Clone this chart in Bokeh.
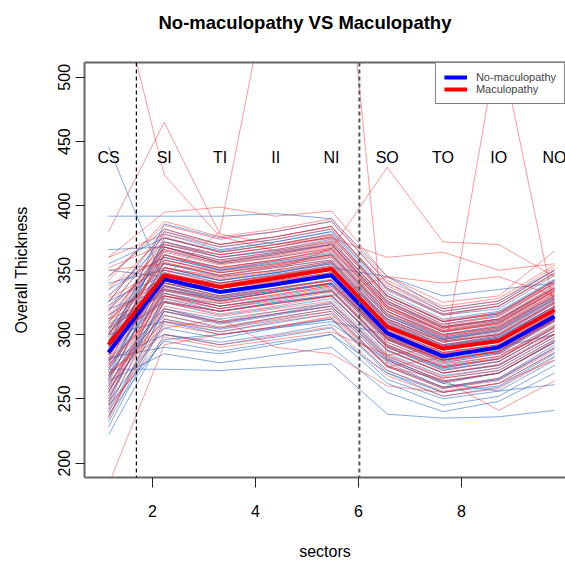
from bokeh.plotting import figure
from bokeh.models import (Range1d, LinearAxis, FixedTicker, Span, Legend, LegendItem, Title)
from bokeh.core.properties import value
from bokeh.embed import file_html
from bokeh.resources import INLINE

FONT = "Liberation Sans"

sector_pos = [1, 2, 3, 4, 5, 6, 7, 8, 9]
sector_labels = ["CS", "SI", "TI", "II", "NI", "SO", "TO", "IO", "NO"]
x_ticks = [2, 4, 6, 8]
y_ticks = [200, 250, 300, 350, 400, 450, 500]
dividers = [1.5, 5.5]

mean_no_mac = [286, 343, 333, 339, 346, 301, 283, 290, 314]
mean_mac = [292, 346, 337, 344, 351, 306, 289, 295, 319]

no_mac = [
    [250, 330, 322, 328, 334, 290, 272, 279, 303],
    [310, 360, 350, 356, 362, 315, 297, 303, 328],
    [272, 338, 326, 333, 340, 296, 278, 285, 310],
    [295, 352, 342, 348, 355, 309, 291, 298, 322],
    [240, 318, 310, 316, 322, 280, 262, 270, 294],
    [330, 372, 360, 366, 374, 325, 306, 312, 336],
    [265, 345, 336, 342, 348, 302, 285, 291, 316],
    [285, 328, 318, 325, 331, 287, 270, 276, 300],
    [300, 365, 355, 360, 367, 320, 300, 307, 332],
    [228, 310, 302, 309, 316, 275, 258, 265, 290],
    [318, 378, 366, 372, 380, 330, 310, 317, 342],
    [278, 340, 330, 336, 343, 299, 281, 288, 312],
    [260, 325, 315, 321, 328, 285, 268, 274, 298],
    [345, 382, 370, 376, 384, 335, 315, 320, 346],
    [290, 350, 340, 347, 353, 306, 288, 294, 320],
    [255, 335, 327, 333, 339, 294, 276, 283, 307],
    [305, 355, 345, 350, 357, 311, 292, 299, 324],
    [270, 320, 312, 318, 325, 283, 266, 272, 296],
    [392, 392, 392, 394, 390, 345, 320, 326, 350],
    [273, 273, 272, 275, 277, 238, 235, 236, 241],
    [446, 340, 330, 338, 345, 300, 282, 290, 312],
    [222, 300, 292, 298, 305, 265, 250, 256, 280],
    [366, 368, 356, 362, 370, 322, 303, 310, 334],
    [282, 290, 285, 292, 300, 270, 255, 260, 285],
    [315, 345, 338, 344, 352, 312, 295, 300, 325],
    [248, 305, 297, 305, 312, 272, 255, 262, 286],
    [298, 372, 362, 368, 376, 328, 308, 315, 340],
    [335, 360, 350, 355, 362, 318, 300, 306, 330],
    [262, 352, 342, 348, 355, 310, 292, 298, 322],
    [280, 300, 294, 300, 308, 280, 262, 256, 261],
    [292, 386, 375, 380, 388, 340, 318, 324, 350],
    [236, 320, 309, 316, 324, 282, 263, 270, 295],
    [320, 335, 328, 334, 340, 298, 282, 290, 316],
    [268, 315, 305, 313, 320, 278, 259, 266, 292],
    [302, 340, 333, 340, 346, 305, 290, 297, 322],
    [288, 362, 352, 358, 365, 318, 298, 305, 330],
    [355, 375, 365, 372, 380, 336, 316, 322, 348],
    [245, 295, 287, 294, 300, 262, 245, 252, 276],
    [276, 332, 322, 328, 335, 292, 274, 281, 306],
    [312, 368, 358, 364, 370, 324, 305, 311, 336],
    [258, 342, 333, 339, 346, 300, 283, 289, 314],
    [296, 326, 318, 324, 330, 290, 274, 281, 305],
    [325, 380, 368, 374, 382, 332, 312, 318, 343],
    [232, 312, 304, 311, 318, 276, 259, 265, 289],
    [284, 347, 337, 343, 350, 304, 286, 292, 317],
    [340, 350, 342, 348, 356, 312, 294, 300, 326],
    [266, 358, 348, 353, 360, 314, 296, 302, 327],
    [308, 332, 324, 330, 337, 296, 279, 286, 311],
    [252, 325, 318, 325, 330, 288, 270, 276, 300],
    [294, 368, 356, 363, 370, 322, 302, 309, 334],
    [274, 348, 338, 344, 350, 306, 289, 296, 320],
    [300, 310, 300, 305, 310, 300, 285, 290, 300],
    [242, 330, 320, 327, 334, 291, 273, 279, 303],
    [322, 355, 346, 352, 358, 314, 296, 303, 328],
    [288, 337, 328, 334, 340, 297, 280, 287, 311],
    [350, 345, 340, 346, 352, 345, 330, 335, 340],
    [264, 285, 278, 284, 290, 255, 240, 248, 270],
    [280, 375, 364, 370, 378, 330, 310, 316, 342],
    [305, 342, 336, 343, 350, 307, 290, 296, 320],
    [256, 318, 308, 315, 322, 281, 264, 270, 294],
    [268, 362, 350, 357, 363, 316, 297, 304, 329],
    [304, 334, 326, 333, 339, 300, 284, 290, 314],
    [246, 338, 329, 336, 342, 297, 280, 286, 311],
    [326, 346, 337, 343, 350, 308, 291, 297, 321],
    [238, 296, 300, 306, 312, 270, 252, 259, 283],
    [292, 370, 360, 365, 372, 326, 306, 312, 338],
]

mac = [
    [260, 332, 322, 329, 336, 292, 275, 281, 306],
    [315, 362, 352, 358, 366, 320, 302, 308, 333],
    [280, 342, 332, 338, 346, 300, 284, 290, 314],
    [300, 356, 346, 353, 360, 314, 296, 303, 328],
    [245, 322, 314, 320, 326, 284, 267, 274, 298],
    [335, 376, 364, 370, 378, 330, 311, 317, 341],
    [272, 348, 339, 345, 352, 306, 290, 296, 320],
    [292, 330, 320, 328, 334, 291, 275, 281, 305],
    [305, 368, 358, 364, 371, 324, 305, 312, 337],
    [236, 315, 306, 313, 320, 279, 263, 270, 294],
    [325, 382, 370, 376, 384, 334, 315, 322, 347],
    [285, 344, 334, 340, 347, 303, 286, 292, 316],
    [380, 465, 378, 370, 375, 330, 310, 316, 340],
    [600, 424, 376, 365, 372, 326, 306, 312, 336],
    [300, 345, 380, 600, 709, 275, 282, 290, 312],
    [183, 292, 300, 306, 314, 275, 258, 264, 288],
    [310, 352, 345, 350, 367, 430, 372, 370, 345],
    [290, 340, 333, 338, 345, 300, 280, 530, 320],
    [268, 310, 305, 312, 318, 275, 265, 241, 264],
    [352, 370, 362, 368, 375, 360, 364, 350, 355],
    [255, 340, 330, 336, 342, 298, 280, 287, 312],
    [320, 358, 348, 354, 361, 316, 298, 304, 330],
    [276, 325, 316, 322, 330, 288, 270, 276, 300],
    [295, 372, 362, 368, 376, 328, 308, 314, 340],
    [240, 308, 300, 306, 313, 272, 256, 262, 286],
    [330, 366, 357, 363, 370, 324, 305, 311, 336],
    [282, 350, 340, 346, 353, 308, 291, 297, 322],
    [262, 318, 309, 316, 322, 281, 264, 270, 294],
    [345, 385, 374, 380, 388, 340, 320, 326, 352],
    [298, 338, 329, 335, 342, 299, 282, 289, 313],
    [250, 328, 320, 326, 333, 290, 272, 279, 303],
    [312, 346, 340, 346, 354, 310, 294, 300, 325],
    [288, 362, 351, 357, 364, 318, 299, 306, 331],
    [360, 378, 368, 374, 382, 338, 318, 324, 350],
    [270, 300, 292, 299, 306, 268, 252, 258, 282],
    [305, 335, 326, 333, 340, 297, 280, 287, 312],
    [278, 356, 346, 352, 358, 312, 294, 300, 325],
    [322, 370, 360, 366, 373, 326, 307, 314, 339],
    [258, 312, 302, 310, 316, 276, 259, 266, 290],
    [294, 348, 338, 344, 351, 306, 288, 295, 320],
    [338, 360, 352, 358, 366, 322, 304, 310, 336],
    [266, 336, 326, 333, 340, 296, 278, 285, 310],
    [302, 380, 370, 376, 384, 336, 316, 322, 348],
    [244, 298, 290, 296, 302, 284, 290, 285, 300],
    [315, 342, 336, 341, 348, 305, 288, 294, 318],
    [286, 366, 355, 361, 368, 321, 302, 309, 334],
    [328, 352, 344, 350, 357, 312, 295, 301, 327],
    [274, 330, 322, 328, 334, 292, 275, 282, 306],
    [308, 375, 364, 370, 377, 330, 310, 316, 342],
    [264, 345, 336, 342, 348, 303, 286, 292, 317],
    [296, 325, 318, 324, 330, 345, 340, 345, 330],
    [350, 355, 348, 354, 362, 318, 300, 306, 332],
    [280, 320, 310, 318, 324, 283, 266, 272, 296],
    [318, 364, 354, 360, 367, 320, 302, 308, 334],
    [254, 334, 325, 331, 338, 294, 277, 283, 308],
    [290, 352, 343, 349, 356, 310, 292, 299, 324],
    [342, 388, 376, 382, 390, 342, 322, 328, 354],
    [270, 305, 312, 290, 285, 260, 255, 262, 280],
    [300, 358, 349, 355, 362, 316, 299, 305, 330],
    [284, 338, 328, 335, 342, 298, 280, 287, 311],
    [360, 395, 399, 392, 396, 345, 325, 330, 365],
    [248, 344, 334, 341, 347, 302, 285, 291, 316],
    [312, 330, 324, 331, 338, 296, 280, 287, 312],
    [276, 368, 356, 362, 369, 322, 303, 309, 335],
    [234, 326, 318, 324, 330, 288, 270, 277, 301],
]

p = figure(width=565, height=562, output_backend="svg", toolbar_location=None,
           x_range=Range1d(0.5695, 9.197), y_range=Range1d(188.8, 511.5),
           x_axis_location=None, min_border_left=84, min_border_right=0,
           min_border_top=62, min_border_bottom=81)
p.extra_x_ranges = {"ax": Range1d(0.680, 10.019)}
p.grid.visible = False
p.outline_line_color = None
p.background_fill_color = "white"
p.border_fill_color = "white"

ya = p.yaxis[0]
ya.ticker = FixedTicker(ticks=y_ticks)
ya.major_label_orientation = "vertical"
ya.axis_label = "Overall Thickness"
ya.axis_line_color = "#666666"
ya.axis_line_width = 2
ya.major_tick_line_color = "#222222"
ya.major_tick_out = 9
ya.major_tick_in = 0
ya.minor_tick_line_color = None
ya.major_label_text_font = FONT
ya.major_label_text_font_size = "16px"
ya.major_label_text_color = "black"
ya.major_label_standoff = 5
ya.axis_label_text_font = FONT
ya.axis_label_text_font_size = "16px"
ya.axis_label_text_font_style = "normal"
ya.axis_label_text_color = "black"
ya.axis_label_standoff = 26

xa = LinearAxis(x_range_name="ax", ticker=FixedTicker(ticks=x_ticks), axis_label="sectors",
                axis_line_color="#666666", axis_line_width=2,
                major_tick_line_color="#222222", major_tick_out=10, major_tick_in=0,
                minor_tick_line_color=None, major_label_text_font=FONT,
                major_label_text_font_size="16px", major_label_text_color="black",
                major_label_standoff=17, axis_label_text_font=FONT,
                axis_label_text_font_size="16px", axis_label_text_font_style="normal",
                axis_label_text_color="black", axis_label_standoff=23)
p.add_layout(xa, "below")

# top border of the box (invisible axis label acts as spacer under the title)
top = LinearAxis(x_range_name="ax", ticker=FixedTicker(ticks=[]), axis_line_color="#666666",
                 axis_line_width=2, major_tick_out=0, major_tick_in=0,
                 minor_tick_line_color=None, major_label_text_font_size="0px",
                 axis_label="x", axis_label_text_alpha=0, axis_label_text_font_size="10px",
                 axis_label_standoff=16)
p.add_layout(top, "above")

p.title = Title(text="No-maculopathy VS Maculopathy", align="left", offset=74,
                text_font=FONT, text_font_size="18.5px", text_font_style="bold",
                text_color="black", standoff=0)

p.multi_line(xs=[sector_pos] * len(no_mac), ys=no_mac, line_color="#1e64c8",
             line_alpha=0.55, line_width=1)
p.multi_line(xs=[sector_pos] * len(mac), ys=mac, line_color="#ff2020",
             line_alpha=0.45, line_width=1)

p.add_layout(Span(location=dividers[0], dimension="height", line_color="black",
                  line_width=1.2, line_dash="4 3"))
p.add_layout(Span(location=dividers[1], dimension="height", line_color="#555555",
                  line_width=2, line_dash="4 3"))

p.text(x=sector_pos, y=[438] * len(sector_pos), text=sector_labels,
       text_font=value(FONT), text_font_size="16px", text_color="black",
       text_align="center", text_baseline="middle")

rb = p.line(sector_pos, mean_no_mac, line_color="#0000ff", line_width=4)
rr = p.line(sector_pos, mean_mac, line_color="#ff0000", line_width=4)

legend = Legend(items=[LegendItem(label="No-maculopathy", renderers=[rb]),
                       LegendItem(label="Maculopathy", renderers=[rr])],
                location="top_right", border_line_color="black", border_line_width=1,
                padding=8, margin=0, spacing=0, label_height=12, glyph_height=12,
                glyph_width=23, label_standoff=9, label_text_font=FONT,
                label_text_font_size="11px", background_fill_alpha=1)
p.add_layout(legend)

open("out.html", "w").write(file_html(p, INLINE))
